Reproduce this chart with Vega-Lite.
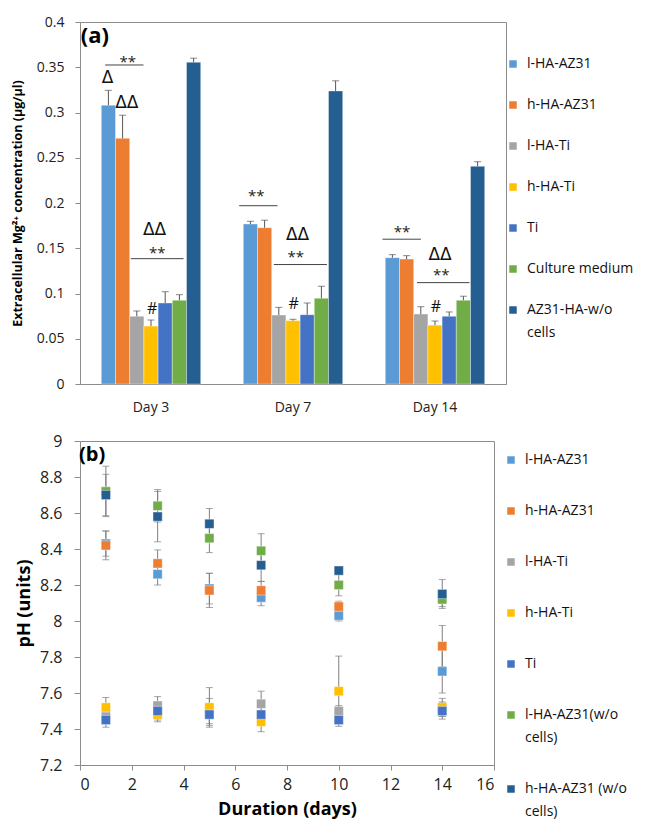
{
  "$schema": "https://vega.github.io/schema/vega-lite/v6.json",
  "background": "white",
  "padding": {"left": 10, "top": 14, "right": 0, "bottom": 0},
  "spacing": 17,
  "config": {
    "font": "Open Sans",
    "view": {"stroke": "#8c8c8c", "strokeWidth": 1},
    "axis": {"domainColor": "#8c8c8c", "tickColor": "#8c8c8c", "labelColor": "#222", "titleColor": "#000", "grid": false, "labelFont": "Open Sans", "titleFont": "Open Sans"},
    "legend": {"symbolType": "square", "symbolSize": 56, "symbolStrokeWidth": 0, "labelFont": "Open Sans", "labelFontSize": 14, "labelColor": "#111", "labelOffset": 7, "orient": "none"},
    "style": {"guide-label": {"lineHeight": 23}}
  },
  "datasets": {
    "bars": [
      {"day": "Day 3", "group": "l-HA-AZ31", "value": 0.308, "upper": 0.3245},
      {"day": "Day 3", "group": "h-HA-AZ31", "value": 0.2715, "upper": 0.297},
      {"day": "Day 3", "group": "l-HA-Ti", "value": 0.0748, "upper": 0.0807},
      {"day": "Day 3", "group": "h-HA-Ti", "value": 0.064, "upper": 0.0707},
      {"day": "Day 3", "group": "Ti", "value": 0.0895, "upper": 0.102},
      {"day": "Day 3", "group": "Culture medium", "value": 0.0925, "upper": 0.0987},
      {"day": "Day 3", "group": "AZ31-HA-w/o cells", "value": 0.3555, "upper": 0.36},
      {"day": "Day 7", "group": "l-HA-AZ31", "value": 0.1768, "upper": 0.1798},
      {"day": "Day 7", "group": "h-HA-AZ31", "value": 0.1727, "upper": 0.181},
      {"day": "Day 7", "group": "l-HA-Ti", "value": 0.0762, "upper": 0.0847},
      {"day": "Day 7", "group": "h-HA-Ti", "value": 0.07, "upper": 0.0715},
      {"day": "Day 7", "group": "Ti", "value": 0.0766, "upper": 0.0895},
      {"day": "Day 7", "group": "Culture medium", "value": 0.0947, "upper": 0.108},
      {"day": "Day 7", "group": "AZ31-HA-w/o cells", "value": 0.3238, "upper": 0.335},
      {"day": "Day 14", "group": "l-HA-AZ31", "value": 0.1396, "upper": 0.1429},
      {"day": "Day 14", "group": "h-HA-AZ31", "value": 0.138, "upper": 0.1418},
      {"day": "Day 14", "group": "l-HA-Ti", "value": 0.0773, "upper": 0.0854},
      {"day": "Day 14", "group": "h-HA-Ti", "value": 0.065, "upper": 0.0696},
      {"day": "Day 14", "group": "Ti", "value": 0.0748, "upper": 0.0796},
      {"day": "Day 14", "group": "Culture medium", "value": 0.0925, "upper": 0.097},
      {"day": "Day 14", "group": "AZ31-HA-w/o cells", "value": 0.2405, "upper": 0.2456}
    ],
    "stars": [
      {"u": 0.337, "y": 0.3577},
      {"u": 0.544, "y": 0.147},
      {"u": 1.241, "y": 0.2096},
      {"u": 1.52, "y": 0.1425},
      {"u": 2.267, "y": 0.1698},
      {"u": 2.544, "y": 0.123}
    ],
    "deltas": [
      {"u": 0.194, "y": 0.338, "t": "Δ"},
      {"u": 0.33, "y": 0.311, "t": "ΔΔ"},
      {"u": 0.525, "y": 0.17, "t": "ΔΔ"},
      {"u": 1.532, "y": 0.165, "t": "ΔΔ"},
      {"u": 2.536, "y": 0.143, "t": "ΔΔ"}
    ],
    "hashes": [
      {"u": 0.508, "y": 0.0825},
      {"u": 1.504, "y": 0.0887},
      {"u": 2.506, "y": 0.085}
    ],
    "lines": [
      {"u": 0.177, "u2": 0.447, "y": 0.3525},
      {"u": 0.358, "u2": 0.729, "y": 0.1385},
      {"u": 1.121, "u2": 1.391, "y": 0.197},
      {"u": 1.365, "u2": 1.739, "y": 0.132},
      {"u": 2.13, "u2": 2.401, "y": 0.16},
      {"u": 2.373, "u2": 2.743, "y": 0.112}
    ],
    "ph": [
      {"t": 1, "s": "l-HA-AZ31", "ph": 8.43, "err": 0.07},
      {"t": 3, "s": "l-HA-AZ31", "ph": 8.26, "err": 0.06},
      {"t": 5, "s": "l-HA-AZ31", "ph": 8.18, "err": 0.085},
      {"t": 7, "s": "l-HA-AZ31", "ph": 8.13, "err": 0.045},
      {"t": 10, "s": "l-HA-AZ31", "ph": 8.03, "err": 0.03},
      {"t": 14, "s": "l-HA-AZ31", "ph": 7.72, "err": 0.12},
      {"t": 1, "s": "h-HA-AZ31", "ph": 8.42, "err": 0.08},
      {"t": 3, "s": "h-HA-AZ31", "ph": 8.32, "err": 0.075},
      {"t": 5, "s": "h-HA-AZ31", "ph": 8.17, "err": 0.095},
      {"t": 7, "s": "h-HA-AZ31", "ph": 8.17, "err": 0.05},
      {"t": 10, "s": "h-HA-AZ31", "ph": 8.08, "err": 0.03},
      {"t": 14, "s": "h-HA-AZ31", "ph": 7.86, "err": 0.115},
      {"t": 1, "s": "l-HA-Ti", "ph": 7.47, "err": 0.04},
      {"t": 3, "s": "l-HA-Ti", "ph": 7.53, "err": 0.05},
      {"t": 5, "s": "l-HA-Ti", "ph": 7.5, "err": 0.07},
      {"t": 7, "s": "l-HA-Ti", "ph": 7.54, "err": 0.07},
      {"t": 10, "s": "l-HA-Ti", "ph": 7.5, "err": 0.03},
      {"t": 14, "s": "l-HA-Ti", "ph": 7.51, "err": 0.04},
      {"t": 1, "s": "h-HA-Ti", "ph": 7.52, "err": 0.055},
      {"t": 3, "s": "h-HA-Ti", "ph": 7.48, "err": 0.04},
      {"t": 5, "s": "h-HA-Ti", "ph": 7.52, "err": 0.11},
      {"t": 7, "s": "h-HA-Ti", "ph": 7.44, "err": 0.055},
      {"t": 10, "s": "h-HA-Ti", "ph": 7.61, "err": 0.195},
      {"t": 14, "s": "h-HA-Ti", "ph": 7.52, "err": 0.05},
      {"t": 1, "s": "Ti", "ph": 7.45, "err": 0.04},
      {"t": 3, "s": "Ti", "ph": 7.5, "err": 0.05},
      {"t": 5, "s": "Ti", "ph": 7.48, "err": 0.06},
      {"t": 7, "s": "Ti", "ph": 7.48, "err": 0.05},
      {"t": 10, "s": "Ti", "ph": 7.45, "err": 0.02},
      {"t": 14, "s": "Ti", "ph": 7.5, "err": 0.045},
      {"t": 1, "s": "l-HA-AZ31(w/o cells)", "ph": 8.72, "err": 0.14},
      {"t": 3, "s": "l-HA-AZ31(w/o cells)", "ph": 8.64, "err": 0.09},
      {"t": 5, "s": "l-HA-AZ31(w/o cells)", "ph": 8.46, "err": 0.08},
      {"t": 7, "s": "l-HA-AZ31(w/o cells)", "ph": 8.39, "err": 0.095},
      {"t": 10, "s": "l-HA-AZ31(w/o cells)", "ph": 8.2, "err": 0.06},
      {"t": 14, "s": "l-HA-AZ31(w/o cells)", "ph": 8.12, "err": 0.04},
      {"t": 1, "s": "h-HA-AZ31 (w/o cells)", "ph": 8.7, "err": 0.115},
      {"t": 3, "s": "h-HA-AZ31 (w/o cells)", "ph": 8.58, "err": 0.14},
      {"t": 5, "s": "h-HA-AZ31 (w/o cells)", "ph": 8.54, "err": 0.085},
      {"t": 7, "s": "h-HA-AZ31 (w/o cells)", "ph": 8.31, "err": 0.09},
      {"t": 10, "s": "h-HA-AZ31 (w/o cells)", "ph": 8.28, "err": 0.02},
      {"t": 14, "s": "h-HA-AZ31 (w/o cells)", "ph": 8.15, "err": 0.08}
    ],
    "labA": [{"u": 0.005, "y": 0.3845, "t": "(a)"}],
    "labB": [{"t": 0.0, "ph": 8.92, "lab": "(b)"}]
  },
  "resolve": {"scale": {"color": "independent"}, "legend": {"color": "independent"}},
  "vconcat": [
    {
      "width": 426,
      "height": 362,
      "resolve": {"scale": {"x": "independent"}},
      "layer": [
        {
          "data": {"name": "bars"},
          "encoding": {
            "x": {"field": "day", "type": "nominal", "sort": ["Day 3", "Day 7", "Day 14"],
                  "scale": {"paddingInner": 0.3, "paddingOuter": 0.15},
                  "axis": {"title": null, "labelAngle": 0, "ticks": false, "labelFontSize": 14, "labelPadding": 16}},
            "xOffset": {"field": "group", "type": "nominal", "sort": ["l-HA-AZ31", "h-HA-AZ31", "l-HA-Ti", "h-HA-Ti", "Ti", "Culture medium", "AZ31-HA-w/o cells"]},
            "y": {"field": "value", "type": "quantitative", "scale": {"domain": [0, 0.4], "nice": false},
                  "axis": {"title": "Extracellular Mg²⁺ concentration (µg/µl)", "titleFontSize": 12.5, "titleFontWeight": "bold", "titlePadding": 12,
                           "values": [0, 0.05, 0.1, 0.15, 0.2, 0.25, 0.3, 0.35, 0.4], "format": "~g", "labelFontSize": 14, "tickSize": 5, "labelPadding": 11}}
          },
          "layer": [
            {
              "mark": {"type": "bar", "stroke": "white", "strokeWidth": 0.6, "strokeOpacity": 0.6},
              "encoding": {
                "color": {"field": "group", "type": "nominal",
                          "scale": {"domain": ["l-HA-AZ31", "h-HA-AZ31", "l-HA-Ti", "h-HA-Ti", "Ti", "Culture medium", "AZ31-HA-w/o cells"],
                                    "range": ["#5B9BD5", "#ED7D31", "#A5A5A5", "#FFC000", "#4472C4", "#70AD47", "#255E91"]},
                          "legend": {"title": null, "legendX": 426, "legendY": 35, "rowPadding": 27,
                                     "labelExpr": "datum.label == 'AZ31-HA-w/o cells' ? ['AZ31-HA-w/o', 'cells'] : datum.label"}}
              }
            },
            {
              "mark": {"type": "rule", "color": "#555", "strokeWidth": 1},
              "encoding": {"y2": {"field": "upper"}}
            },
            {
              "mark": {"type": "tick", "color": "#555", "thickness": 1, "size": 7},
              "encoding": {"y": {"field": "upper", "type": "quantitative"}}
            }
          ]
        },
        {
          "layer": [
            {
              "data": {"name": "lines"},
              "mark": {"type": "rule", "color": "#444", "strokeWidth": 1},
              "encoding": {
                "x": {"field": "u", "type": "quantitative", "scale": {"domain": [0, 3], "nice": false, "zero": false}, "axis": null},
                "x2": {"field": "u2"},
                "y": {"field": "y", "type": "quantitative"}
              }
            },
            {
              "data": {"name": "stars"},
              "mark": {"type": "text", "text": "**", "fontSize": 15, "color": "#222", "baseline": "middle", "dy": 2},
              "encoding": {
                "x": {"field": "u", "type": "quantitative"},
                "y": {"field": "y", "type": "quantitative"}
              }
            },
            {
              "data": {"name": "deltas"},
              "mark": {"type": "text", "fontSize": 17, "color": "#111", "baseline": "middle", "font": "DejaVu Sans"},
              "encoding": {
                "x": {"field": "u", "type": "quantitative"},
                "y": {"field": "y", "type": "quantitative"},
                "text": {"field": "t"}
              }
            },
            {
              "data": {"name": "hashes"},
              "mark": {"type": "text", "text": "#", "fontSize": 16, "color": "#111", "baseline": "middle"},
              "encoding": {
                "x": {"field": "u", "type": "quantitative"},
                "y": {"field": "y", "type": "quantitative"}
              }
            },
            {
              "data": {"name": "labA"},
              "mark": {"type": "text", "fontSize": 22, "fontWeight": "bold", "color": "#000", "baseline": "middle", "align": "left"},
              "encoding": {
                "x": {"field": "u", "type": "quantitative"},
                "y": {"field": "y", "type": "quantitative"},
                "text": {"field": "t"}
              }
            }
          ]
        }
      ]
    },
    {
      "width": 414,
      "height": 324,
      "encoding": {
        "x": {"field": "t", "type": "quantitative", "scale": {"domain": [0, 16], "nice": false},
              "axis": {"title": "Duration (days)", "titleFontSize": 18, "titleFontWeight": "bold", "values": [0, 2, 4, 6, 8, 10, 12, 14, 16], "labelFontSize": 16, "tickSize": 5, "labelPadding": 6, "titlePadding": 8}},
        "y": {"field": "ph", "type": "quantitative", "scale": {"domain": [7.2, 9], "nice": false, "zero": false},
              "axis": {"title": "pH (units)", "titleFontSize": 18, "titleFontWeight": "bold", "values": [7.2, 7.4, 7.6, 7.8, 8, 8.2, 8.4, 8.6, 8.8, 9], "format": "~g", "labelFontSize": 16, "tickSize": 6, "labelPadding": 12, "titlePadding": 6}}
      },
      "layer": [
        {
          "data": {"name": "ph"},
          "mark": {"type": "errorbar", "ticks": {"size": 7, "color": "#7f7f7f"}, "rule": {"color": "#7f7f7f"}, "thickness": 1},
          "encoding": {
            "yError": {"field": "err"}
          }
        },
        {
          "data": {"name": "ph"},
          "mark": {"type": "point", "shape": "square", "filled": true, "size": 85, "opacity": 1, "stroke": "white", "strokeWidth": 0.6, "strokeOpacity": 0.7},
          "encoding": {
            "color": {"field": "s", "type": "nominal",
                      "scale": {"domain": ["l-HA-AZ31", "h-HA-AZ31", "l-HA-Ti", "h-HA-Ti", "Ti", "l-HA-AZ31(w/o cells)", "h-HA-AZ31 (w/o cells)"],
                                "range": ["#5B9BD5", "#ED7D31", "#A5A5A5", "#FFC000", "#4472C4", "#70AD47", "#255E91"]},
                      "legend": {"title": null, "legendX": 424, "legendY": 12, "rowPadding": 37,
                                 "labelExpr": "datum.label == 'l-HA-AZ31(w/o cells)' ? ['l-HA-AZ31(w/o', 'cells)'] : datum.label == 'h-HA-AZ31 (w/o cells)' ? ['h-HA-AZ31 (w/o', 'cells)'] : datum.label"}}
          }
        },
        {
          "data": {"name": "labB"},
          "mark": {"type": "text", "fontSize": 20, "fontWeight": "bold", "color": "#000", "baseline": "middle", "align": "left", "dx": -1},
          "encoding": {
            "text": {"field": "lab"}
          }
        }
      ]
    }
  ]
}
